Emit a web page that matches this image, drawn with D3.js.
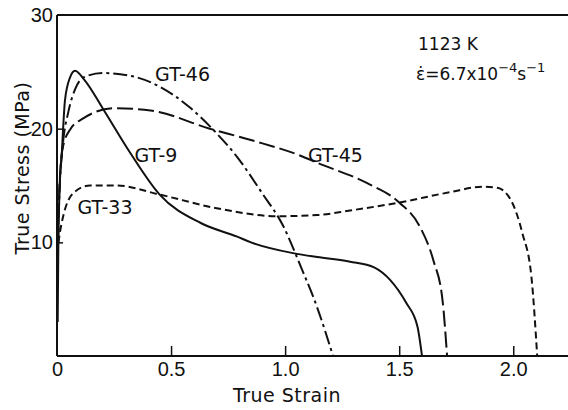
<!DOCTYPE html>
<html><head><meta charset="utf-8">
<script src="https://cdn.jsdelivr.net/npm/d3@7"></script>
<style>body{margin:0;background:#fff}text{font-family:"Liberation Sans",Arial,sans-serif;fill:#111}.w{font-family:"DejaVu Sans",sans-serif}</style>
</head><body><svg id="c" width="568" height="410"></svg>
<script>
const xTicks = [0, 0.5, 1.0, 1.5, 2.0];
const xTickLabels = ["0", "0.5", "1.0", "1.5", "2.0"];
const yTicks = [10, 20, 30];
const yTickLabels = ["10", "20", "30"];

const gt9 = [[0.003,3],[0.006,10],[0.012,15],[0.02,17.5],[0.035,22.5],[0.057,24.5],[0.079,25.1],[0.12,24.3],[0.2,21.8],[0.32,17.9],[0.45,14.2],[0.63,11.7],[0.79,10.5],[0.85,10.0],[1.035,9.05],[1.14,8.7],[1.285,8.3],[1.39,7.8],[1.46,6.7],[1.53,4.7],[1.58,2.6],[1.6,0]];
const gt46 = [[0.004,10],[0.012,15],[0.025,18.5],[0.05,21.5],[0.08,23.5],[0.115,24.5],[0.2,24.9],[0.31,24.7],[0.45,23.7],[0.58,21.9],[0.68,20.0],[0.79,17.5],[0.9,14.3],[0.99,11.5],[1.07,7.8],[1.14,4.3],[1.21,0]];
const gt45 = [[0.004,10],[0.01,14.5],[0.026,18.4],[0.06,20.0],[0.115,20.9],[0.25,21.8],[0.41,21.6],[0.67,20.0],[0.85,19.0],[1.07,17.6],[1.14,17.0],[1.36,15.2],[1.5,13.5],[1.59,11.4],[1.65,8.4],[1.69,4.9],[1.71,0]];
const gt33 = [[0.0,9],[0.013,10.9],[0.026,12.2],[0.07,14.3],[0.145,15.0],[0.26,15.0],[0.45,14.2],[0.7,13.0],[0.965,12.3],[1.14,12.4],[1.285,12.8],[1.5,13.5],[1.72,14.4],[1.87,14.9],[1.93,14.8],[1.99,13.7],[2.04,10.8],[2.08,6.9],[2.105,0]];

const svg = d3.select("#c");
const x = d3.scaleLinear().domain([0, 2.24]).range([57, 568]);
const y = d3.scaleLinear().domain([0, 30]).range([356, 15]);

svg.append("line").attr("x1",57).attr("x2",568).attr("y1",y(0)).attr("y2",y(0)).attr("stroke","#111").attr("stroke-width",2);
svg.append("line").attr("x1",57).attr("x2",568).attr("y1",y(30)).attr("y2",y(30)).attr("stroke","#111").attr("stroke-width",2);
svg.append("line").attr("x1",57).attr("x2",57).attr("y1",y(0)).attr("y2",y(30)).attr("stroke","#111").attr("stroke-width",2);

const xa = d3.axisBottom(x).tickValues(xTicks).tickSize(-10).tickFormat((d,i)=>xTickLabels[i]).tickPadding(6);
const gx = svg.append("g").attr("transform",`translate(0,${y(0)})`).call(xa);
gx.select(".domain").remove();
gx.selectAll(".tick line").attr("stroke","#111").attr("stroke-width",1.5).filter(d=>d===0).remove();
gx.selectAll("text").attr("font-size",20).attr("fill","#111");

const ya = d3.axisLeft(y).tickValues(yTicks).tickSize(-6).tickFormat((d,i)=>yTickLabels[i]).tickPadding(4);
const gy = svg.append("g").attr("transform",`translate(57,0)`).call(ya);
gy.select(".domain").remove();
gy.selectAll(".tick line").attr("stroke","#111").attr("stroke-width",1.5).filter(d=>d===30).remove();
gy.selectAll("text").attr("font-size",20).attr("fill","#111");

svg.append("text").attr("class","w").attr("x",287).attr("y",402).attr("text-anchor","middle").attr("font-size",19).attr("letter-spacing",0.5).text("True Strain");
svg.append("text").attr("class","w").attr("transform","translate(29,168) rotate(-90)").attr("text-anchor","middle").attr("font-size",19).attr("letter-spacing",0.5).text("True Stress (MPa)");

const line = d3.line().x(d=>x(d[0])).y(d=>y(d[1])).curve(d3.curveMonotoneX);
const series = [
  {d:gt9, dash:null},
  {d:gt46, dash:"14,4,3,4"},
  {d:gt45, dash:"16,5"},
  {d:gt33, dash:"7,4"}
];
series.forEach(s=>{
  const p = svg.append("path").datum(s.d).attr("d",line).attr("fill","none").attr("stroke","#111").attr("stroke-width",2);
  if (s.dash) p.attr("stroke-dasharray",s.dash);
});

const labels = [["GT-46",0.43,24.2],["GT-9",0.34,17.1],["GT-45",1.1,17.1],["GT-33",0.09,12.5]];
labels.forEach(l=>svg.append("text").attr("class","w").attr("x",x(l[1])).attr("y",y(l[2])).attr("font-size",19).text(l[0]));

svg.append("text").attr("class","w").attr("x",418).attr("y",50).attr("font-size",17).text("1123 K");
const t = svg.append("text").attr("class","w").attr("x",416).attr("y",80).attr("font-size",17);
t.append("tspan").text("ε\u0307=6.7x10");
t.append("tspan").attr("dy",-8).attr("font-size",13).text("−4");
t.append("tspan").attr("dy",8).text("s");
t.append("tspan").attr("dy",-8).attr("font-size",13).text("−1");
</script></body></html>
